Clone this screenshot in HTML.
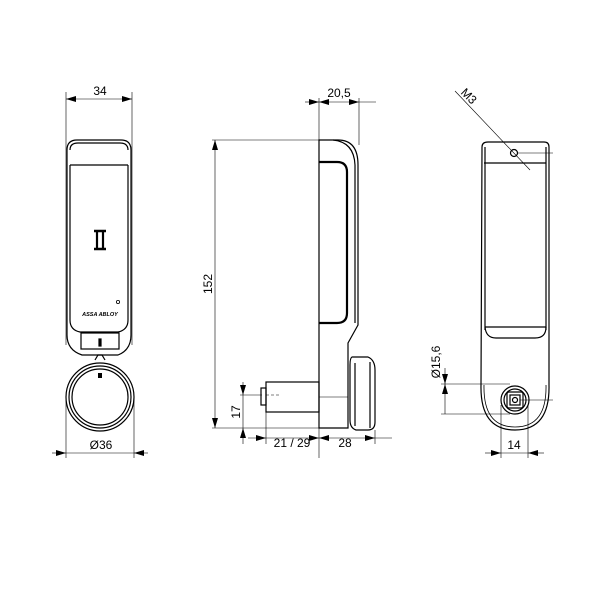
<!DOCTYPE html>
<html><head><meta charset="utf-8"><style>html,body{margin:0;padding:0;background:#fff}svg{display:block}</style></head>
<body>
<svg width="600" height="600" viewBox="0 0 600 600" xmlns="http://www.w3.org/2000/svg" font-family="Liberation Sans, sans-serif" font-size="12" fill="none" stroke="#000">
<defs>
<marker id="a" viewBox="0 0 10 6" refX="10" refY="3" markerWidth="10" markerHeight="6" orient="auto-start-reverse" markerUnits="userSpaceOnUse"><path d="M0,0L10,3L0,6z" fill="#000" stroke="none"/></marker>
</defs>
<g stroke-width="0.6">
<line x1="66" y1="92" x2="66" y2="345"/><line x1="132" y1="92" x2="132" y2="345"/>
<line x1="66" y1="99" x2="132" y2="99" marker-start="url(#a)" marker-end="url(#a)"/>
<line x1="66" y1="400" x2="66" y2="458"/><line x1="134" y1="400" x2="134" y2="458"/>
<line x1="52" y1="453" x2="66" y2="453" marker-end="url(#a)"/><line x1="148" y1="453" x2="134" y2="453" marker-end="url(#a)"/>
<line x1="66" y1="453" x2="134" y2="453"/>
</g>
<text x="100" y="95" fill="#000" stroke="none" text-anchor="middle">34</text>
<text x="101" y="449" fill="#000" stroke="none" text-anchor="middle">Ø36</text>
<g stroke-width="1.2">
<path d="M67,150 Q67,140 77,140 L121,140 Q131,140 131,150 L131,335 Q131,350 118,355 L82,355 Q67,350 67,335 Z"/>
<path d="M70,150 Q70,143 78,143 L120,143 Q128,143 128,150"/>
<line x1="70" y1="165" x2="128" y2="165"/>
<path d="M70,165 L70,320 Q70,330 80,332 L118,332 Q128,330 128,320 L128,165"/>
<rect x="81" y="333" width="38" height="16"/>
<rect x="99" y="339" width="2" height="7" fill="#000"/>
<path d="M95,360 L98,355 L102,355 L105,360"/>
<circle cx="100" cy="397" r="34"/>
<circle cx="100" cy="397" r="31"/>
<circle cx="100" cy="397" r="28"/>
<rect x="98" y="373" width="4" height="5" fill="#000" stroke="none"/>
<path d="M94,231 h12 M94,249 h12" stroke-width="2.4"/>
<path d="M97,232 v16 M103,232 v16" stroke-width="2.2"/>
<circle cx="118" cy="302" r="1.6" stroke-width="0.8"/>
</g>
<text x="100" y="316" fill="#000" stroke="none" text-anchor="middle" font-size="5.5" font-weight="bold" font-style="italic">ASSA ABLOY</text>

<g stroke-width="0.6">
<line x1="319" y1="98" x2="319" y2="458"/>
<line x1="359" y1="98" x2="359" y2="145"/>
<line x1="305" y1="102" x2="319" y2="102" marker-end="url(#a)"/>
<line x1="319" y1="102" x2="359" y2="102" marker-start="url(#a)" marker-end="url(#a)"/>
<line x1="359" y1="102" x2="376" y2="102"/>
<line x1="212" y1="140" x2="320" y2="140"/><line x1="212" y1="428" x2="320" y2="428"/>
<line x1="215" y1="140" x2="215" y2="428" marker-start="url(#a)" marker-end="url(#a)"/>
<line x1="240" y1="395" x2="262" y2="395"/>
<line x1="243" y1="382" x2="243" y2="395" marker-end="url(#a)"/>
<line x1="243" y1="428" x2="243" y2="444" marker-start="url(#a)"/>
<line x1="243" y1="395" x2="243" y2="428"/>
<line x1="266" y1="412" x2="266" y2="444"/>
<line x1="375" y1="430" x2="375" y2="444"/>
<line x1="248" y1="438" x2="266" y2="438" marker-end="url(#a)"/>
<line x1="266" y1="438" x2="319" y2="438" marker-end="url(#a)"/>
<line x1="319" y1="438" x2="375" y2="438" marker-start="url(#a)" marker-end="url(#a)"/>
<line x1="375" y1="438" x2="392" y2="438"/>
<line x1="266" y1="395" x2="280" y2="395" stroke-dasharray="3,2"/>
</g>
<text x="339" y="97" fill="#000" stroke="none" text-anchor="middle">20,5</text>
<text transform="translate(212,284) rotate(-90)" fill="#000" stroke="none" text-anchor="middle">152</text>
<text transform="translate(240,412) rotate(-90)" fill="#000" stroke="none" text-anchor="middle">17</text>
<text x="292" y="447" fill="#000" stroke="none" text-anchor="middle">21 / 29</text>
<text x="345" y="447" fill="#000" stroke="none" text-anchor="middle">28</text>
<g stroke-width="1.2">
<path d="M319,140 L338,140 Q358,140 358,165 L358,325 L348,343 L348,428 L319,428 Z"/>
<path d="M333,140 Q354,142 355,165 L355,323"/>
<path d="M319,162 L337,162 Q347,162 347,172 L347,313 Q347,323 337,323 L319,323" stroke-width="2.2"/>
<path d="M352,357 L368,357 Q375,360 375,370 L375,422 Q375,430 368,430 L356,430 Q350,428 350,420 L350,365 Q350,358 352,357 Z"/>
<line x1="355" y1="363" x2="355" y2="426"/>
<line x1="370" y1="362" x2="370" y2="428"/>
<rect x="266" y="382" width="53" height="30"/>
<rect x="261" y="388" width="5" height="17"/>
<line x1="319" y1="397" x2="348" y2="397" stroke-width="0.6"/>
</g>

<g stroke-width="0.6">
<line x1="455" y1="91" x2="530" y2="170"/>
<line x1="518" y1="153" x2="553" y2="153"/>
<line x1="520" y1="400" x2="553" y2="400"/>
<line x1="441" y1="384" x2="510" y2="384"/><line x1="441" y1="414" x2="510" y2="414"/>
<line x1="445" y1="368" x2="445" y2="384" marker-end="url(#a)"/>
<line x1="445" y1="414" x2="445" y2="384" marker-end="url(#a)"/>
<line x1="501" y1="405" x2="501" y2="458"/><line x1="528" y1="405" x2="528" y2="458"/>
<line x1="485" y1="453" x2="501" y2="453" marker-end="url(#a)"/>
<line x1="544" y1="453" x2="528" y2="453" marker-end="url(#a)"/>
<line x1="501" y1="453" x2="528" y2="453"/>
</g>
<text transform="translate(466,99) rotate(45)" fill="#000" stroke="none" text-anchor="middle">M3</text>
<text transform="translate(440,362) rotate(-90)" fill="#000" stroke="none" text-anchor="middle">Ø15,6</text>
<text x="514" y="449" fill="#000" stroke="none" text-anchor="middle">14</text>
<g stroke-width="1.2">
<path d="M482,147 Q482,142 488,142 L544,142 Q549,142 549,147 L549,385 Q550,430 515,430 Q480,430 481,385 Z"/>
<path d="M484,385 Q483,427 515,427 Q547,427 546,385" stroke-width="0.8"/>
<line x1="484" y1="163" x2="546" y2="163"/>
<line x1="485" y1="147" x2="485" y2="330"/><line x1="546" y1="147" x2="546" y2="330"/>
<path d="M485,327 Q486,338 496,338 L535,338 Q546,338 546,327" />
<line x1="485" y1="327" x2="546" y2="327"/>
<circle cx="514" cy="153" r="3.5"/>
<circle cx="515" cy="400" r="14"/>
<circle cx="515" cy="400" r="11"/>
<rect x="507" y="392" width="16" height="16" rx="2"/>
<rect x="510" y="395" width="10" height="10"/>
<circle cx="515" cy="400" r="2.5"/>
</g>
</svg>
</body></html>
